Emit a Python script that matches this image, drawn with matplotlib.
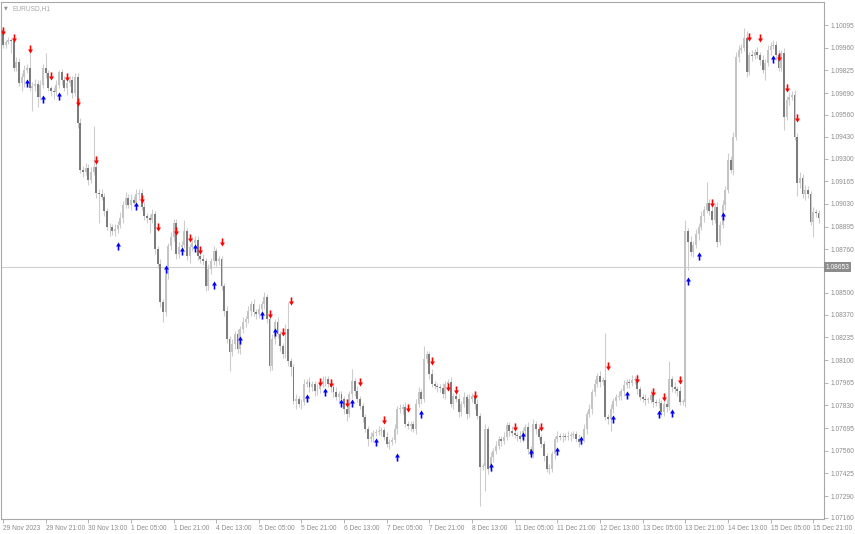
"""EURUSD H1 candles with sell/buy arrow signals, MT4 look."""

import matplotlib.pyplot as plt
import numpy as np
from matplotlib.path import Path

SYMBOL = "EURUSD,H1"
FIRST_OPEN = 1.10066
CLOSES = [
    1.09977, 1.09994, 1.10006, 1.10000, 1.09840, 1.09876, 1.09751, 1.09787, 1.09828, 1.09840,
    1.09721, 1.09733, 1.09745, 1.09668, 1.09739, 1.09840, 1.09810, 1.09721, 1.09703, 1.09697,
    1.09739, 1.09816, 1.09769, 1.09721, 1.09751, 1.09769, 1.09692, 1.09787, 1.09513, 1.09234,
    1.09222, 1.09246, 1.09175, 1.09222, 1.09252, 1.09097, 1.09086, 1.09074, 1.08985, 1.08895,
    1.08890, 1.08866, 1.08878, 1.08907, 1.08949, 1.09026, 1.09068, 1.09026, 1.09056, 1.09038,
    1.09086, 1.09097, 1.09014, 1.08955, 1.08949, 1.08937, 1.08967, 1.08759, 1.08670, 1.08444,
    1.08385, 1.08610, 1.08777, 1.08830, 1.08919, 1.08729, 1.08771, 1.08788, 1.08866, 1.08717,
    1.08771, 1.08800, 1.08818, 1.08717, 1.08699, 1.08688, 1.08539, 1.08640, 1.08688, 1.08747,
    1.08688, 1.08699, 1.08539, 1.08390, 1.08224, 1.08147, 1.08194, 1.08254, 1.08165, 1.08284,
    1.08325, 1.08343, 1.08390, 1.08432, 1.08385, 1.08373, 1.08402, 1.08432, 1.08474, 1.08343,
    1.08064, 1.08224, 1.08325, 1.08254, 1.08183, 1.08135, 1.08284, 1.08093, 1.08058, 1.07856,
    1.07868, 1.07838, 1.07850, 1.07957, 1.07969, 1.07939, 1.07957, 1.07915, 1.07927, 1.07957,
    1.07975, 1.07986, 1.07957, 1.07939, 1.07909, 1.07880, 1.07897, 1.07868, 1.07808, 1.07779,
    1.07897, 1.07975, 1.07915, 1.07868, 1.07826, 1.07761, 1.07689, 1.07630, 1.07642, 1.07666,
    1.07672, 1.07678, 1.07683, 1.07642, 1.07600, 1.07612, 1.07624, 1.07689, 1.07808, 1.07808,
    1.07820, 1.07719, 1.07707, 1.07719, 1.07689, 1.07838, 1.07909, 1.07868, 1.08105, 1.08135,
    1.08016, 1.07957, 1.07945, 1.07939, 1.07933, 1.07897, 1.07957, 1.07969, 1.07838, 1.07885,
    1.07868, 1.07790, 1.07838, 1.07880, 1.07779, 1.07868, 1.07885, 1.07838, 1.07767, 1.07464,
    1.07470, 1.07689, 1.07452, 1.07523, 1.07559, 1.07588, 1.07630, 1.07618, 1.07642, 1.07713,
    1.07678, 1.07666, 1.07654, 1.07648, 1.07630, 1.07678, 1.07701, 1.07571, 1.07535, 1.07719,
    1.07689, 1.07642, 1.07600, 1.07529, 1.07452, 1.07452, 1.07541, 1.07630, 1.07648, 1.07642,
    1.07648, 1.07642, 1.07648, 1.07654, 1.07660, 1.07630, 1.07612, 1.07630, 1.07689, 1.07779,
    1.07808, 1.07909, 1.07957, 1.08004, 1.07969, 1.07980, 1.07761, 1.07749, 1.07808, 1.07856,
    1.07880, 1.07885, 1.07915, 1.07951, 1.07969, 1.07963, 1.07980, 1.07986, 1.07927, 1.07880,
    1.07868, 1.07862, 1.07862, 1.07891, 1.07850, 1.07844, 1.07844, 1.07790, 1.07838, 1.07820,
    1.07986, 1.07939, 1.07927, 1.07915, 1.07850, 1.07850, 1.08866, 1.08806, 1.08741, 1.08788,
    1.08848, 1.08895, 1.08955, 1.08996, 1.09038, 1.08985, 1.08937, 1.09014, 1.08806, 1.08907,
    1.09026, 1.09115, 1.09293, 1.09234, 1.09430, 1.09905, 1.09947, 1.09959, 1.10018, 1.09816,
    1.09917, 1.09911, 1.09935, 1.09917, 1.09888, 1.09828, 1.09870, 1.09947, 1.09971, 1.09977,
    1.09917, 1.09840, 1.09929, 1.09549, 1.09650, 1.09668, 1.09680, 1.09430, 1.09157, 1.09187,
    1.09086, 1.09115, 1.09086, 1.08925, 1.08979, 1.08973, 1.08949,
]
# wick length beyond the body, in pips
WICK_UP = [
    2, 1, 2, 1, 2, 3, 2, 2, 3, 2,
    9, 2, 3, 2, 3, 2, 9, 2, 1, 2,
    3, 1, 2, 2, 3, 2, 2, 2, 2, 3,
    2, 3, 2, 3, 24, 2, 2, 3, 2, 2,
    2, 2, 3, 2, 3, 2, 3, 2, 3, 2,
    3, 2, 2, 3, 2, 2, 3, 2, 2, 3,
    2, 3, 2, 3, 2, 2, 3, 2, 7, 2,
    2, 3, 2, 2, 2, 3, 2, 3, 2, 3,
    2, 2, 2, 2, 3, 2, 3, 2, 3, 2,
    3, 2, 3, 2, 3, 2, 3, 2, 3, 2,
    2, 3, 2, 3, 2, 2, 3, 16, 2, 2,
    3, 2, 2, 3, 2, 3, 2, 2, 3, 2,
    3, 2, 2, 3, 2, 3, 2, 2, 2, 3,
    2, 7, 2, 3, 2, 2, 2, 2, 3, 2,
    2, 3, 2, 2, 3, 2, 2, 3, 2, 3,
    2, 3, 2, 2, 2, 3, 3, 2, 8, 2,
    2, 3, 2, 2, 2, 3, 2, 2, 3, 2,
    2, 3, 2, 3, 2, 3, 2, 2, 3, 2,
    2, 3, 2, 3, 2, 3, 2, 2, 3, 2,
    2, 3, 2, 2, 3, 2, 2, 3, 2, 3,
    2, 3, 2, 2, 2, 3, 2, 2, 3, 2,
    2, 2, 3, 2, 2, 2, 3, 2, 3, 2,
    3, 2, 3, 2, 3, 2, 28, 2, 3, 2,
    2, 3, 2, 3, 2, 2, 3, 2, 3, 2,
    2, 3, 2, 3, 2, 2, 3, 2, 2, 3,
    11, 2, 3, 2, 3, 2, 7, 2, 3, 2,
    3, 2, 3, 2, 12, 2, 3, 2, 3, 2,
    3, 2, 4, 2, 3, 3, 3, 2, 6, 4,
    2, 3, 2, 3, 2, 3, 2, 3, 2, 3,
    2, 3, 2, 3, 2, 3, 2, 3, 2, 3,
    2, 3, 2, 2, 3, 2, 2,
]
WICK_DN = [
    2, 2, 1, 7, 2, 2, 2, 5, 6, 2,
    2, 14, 3, 6, 2, 2, 3, 2, 3, 4,
    2, 2, 3, 2, 4, 2, 3, 2, 3, 2,
    3, 2, 3, 2, 2, 3, 17, 2, 3, 2,
    5, 2, 3, 2, 2, 3, 2, 2, 3, 2,
    2, 3, 2, 2, 3, 8, 2, 3, 2, 3,
    6, 2, 3, 2, 2, 3, 2, 3, 2, 2,
    4, 2, 3, 2, 2, 2, 3, 2, 3, 2,
    3, 2, 2, 3, 2, 11, 2, 3, 2, 3,
    2, 3, 2, 3, 2, 3, 2, 2, 3, 2,
    3, 2, 3, 2, 3, 2, 2, 3, 5, 2,
    5, 2, 3, 2, 2, 3, 2, 3, 2, 2,
    2, 3, 2, 3, 3, 2, 3, 2, 3, 4,
    2, 2, 3, 2, 2, 3, 2, 4, 2, 3,
    2, 2, 3, 2, 2, 3, 2, 2, 3, 2,
    3, 2, 2, 3, 2, 3, 2, 3, 2, 2,
    3, 2, 2, 3, 2, 2, 3, 2, 2, 3,
    2, 3, 2, 2, 3, 2, 2, 3, 2, 23,
    2, 15, 3, 2, 3, 2, 2, 3, 2, 2,
    3, 2, 2, 3, 2, 2, 3, 3, 2, 2,
    3, 2, 2, 3, 2, 3, 2, 3, 2, 2,
    3, 2, 2, 3, 2, 2, 3, 2, 2, 3,
    2, 3, 2, 2, 3, 2, 2, 3, 7, 2,
    3, 2, 2, 3, 2, 3, 2, 2, 3, 2,
    2, 3, 2, 2, 3, 2, 3, 2, 2, 3,
    2, 3, 2, 3, 2, 2, 3, 17, 2, 3,
    2, 3, 2, 3, 2, 2, 3, 2, 3, 2,
    2, 3, 2, 2, 3, 2, 3, 2, 2, 3,
    2, 3, 2, 2, 3, 2, 6, 2, 3, 2,
    3, 2, 2, 8, 2, 3, 2, 2, 8, 3,
    2, 3, 2, 2, 9, 2, 3,
]

SELL_IDX = [0, 4, 10, 18, 24, 28, 35, 52, 58, 65, 70, 74, 82, 100, 105, 108, 119, 123, 129, 134,
            143, 152, 161, 167, 170, 177, 192, 202, 227, 238, 244, 248, 254, 266, 280, 284, 291,
            294, 298]
SELL_PRICE = [1.10060, 1.10018, 1.09953, 1.09793, 1.09787, 1.09638, 1.09293, 1.09062, 1.08895,
              1.08866, 1.08824, 1.08753, 1.08806, 1.08373, 1.08266, 1.08450, 1.07969, 1.07963,
              1.07844, 1.07969, 1.07743, 1.07814, 1.08093, 1.07939, 1.07921, 1.07891, 1.07701,
              1.07701, 1.08064, 1.07986, 1.07909, 1.07880, 1.07980, 1.09038, 1.10024, 1.10018,
              1.09905, 1.09721, 1.09543]
BUY_IDX = [9, 15, 21, 43, 50, 61, 67, 72, 79, 89, 97, 102, 114, 121, 127, 131, 140, 148, 157, 183,
           195, 198, 208, 217, 229, 234, 246, 251, 257, 261, 270, 289]
BUY_PRICE = [1.09751, 1.09656, 1.09674, 1.08782, 1.09020, 1.08640, 1.08747, 1.08765, 1.08545,
             1.08218, 1.08367, 1.08266, 1.07874, 1.07909, 1.07844, 1.07844, 1.07612, 1.07523,
             1.07779, 1.07464, 1.07648, 1.07547, 1.07559, 1.07624, 1.07749, 1.07891, 1.07779,
             1.07785, 1.08569, 1.08717, 1.08955, 1.09894]

TIME_LABELS = ["29 Nov 2023", "29 Nov 21:00", "30 Nov 13:00", "1 Dec 05:00", "1 Dec 21:00",
               "4 Dec 13:00", "5 Dec 05:00", "5 Dec 21:00", "6 Dec 13:00", "7 Dec 05:00",
               "7 Dec 21:00", "8 Dec 13:00", "11 Dec 05:00", "11 Dec 21:00", "12 Dec 13:00",
               "13 Dec 05:00", "13 Dec 21:00", "14 Dec 13:00", "15 Dec 05:00", "15 Dec 21:00"]
LABEL_STEP = 16
PRICE_TICKS = [1.10095, 1.09960, 1.09825, 1.09690, 1.09560, 1.09430, 1.09300, 1.09165, 1.09030,
               1.08895, 1.08760, 1.08630, 1.08500, 1.08370, 1.08235, 1.08100, 1.07965, 1.07830,
               1.07695, 1.07560, 1.07425, 1.07290, 1.07160]
LAST_PRICE = 1.08653

BULL = "#C4C4C4"
BEAR = "#7C7C7C"
WICK = "#CDCDCD"
FRAME = "#A8A8A8"
TEXT = "#8C8C8C"
FS = 4.8


def arrow_path(down=True):
    s = 1 if down else -1
    verts = [(-0.2, s * 1.0), (0.2, s * 1.0), (0.2, 0.0), (0.6, 0.0), (0.0, -s * 1.0),
             (-0.6, 0.0), (-0.2, 0.0), (-0.2, s * 1.0)]
    codes = [Path.MOVETO] + [Path.LINETO] * 6 + [Path.CLOSEPOLY]
    return Path(verts, codes)


def main():
    plt.rcParams["font.family"] = ["Liberation Sans", "DejaVu Sans"]
    pip = 0.0001
    closes = np.array(CLOSES)
    opens = np.concatenate([[FIRST_OPEN], closes[:-1]])
    highs = np.maximum(opens, closes) + np.array(WICK_UP) * pip
    lows = np.minimum(opens, closes) - np.array(WICK_DN) * pip
    x = np.arange(len(closes))
    up = closes >= opens
    body = np.maximum(np.abs(closes - opens), 0.00004)
    bottoms = np.minimum(opens, closes)

    fig = plt.figure(figsize=(8.55, 5.34), dpi=100)
    ax = fig.add_axes([1 / 855, 15 / 534, 823 / 855, 517 / 534])

    ax.axhline(LAST_PRICE, color="#CFCFCF", linewidth=0.8, zorder=1)
    ax.vlines(x, lows, highs, color=WICK, linewidth=0.8, zorder=2)
    ax.bar(x[up], body[up], bottom=bottoms[up], width=0.72, color=BULL, linewidth=0, zorder=3)
    ax.bar(x[~up], body[~up], bottom=bottoms[~up], width=0.72, color=BEAR, linewidth=0, zorder=3)

    ax.scatter(SELL_IDX, SELL_PRICE, marker=arrow_path(True), s=34, color="#FF0000",
               linewidths=0, zorder=5)
    ax.scatter(BUY_IDX, BUY_PRICE, marker=arrow_path(False), s=34, color="#0000FF",
               linewidths=0, zorder=5)

    ax.set_xlim(-0.75, 308.06)
    ax.set_ylim(1.07154, 1.10232)

    ax.yaxis.tick_right()
    ax.set_yticks(PRICE_TICKS)
    # the 1.08630 label sits under the last-price tag, as in the terminal
    ax.set_yticklabels([f"{p:.5f}" if abs(p - LAST_PRICE) > 0.0005 else "" for p in PRICE_TICKS])
    ax.tick_params(axis="y", direction="out", length=3, width=0.6, color=FRAME,
                   labelsize=FS, labelcolor=TEXT, pad=1.5)

    ax.set_xticks(np.arange(len(TIME_LABELS)) * LABEL_STEP)
    ax.set_xticklabels(TIME_LABELS)
    ax.tick_params(axis="x", direction="out", length=3, width=0.6, color=FRAME,
                   labelsize=FS, labelcolor=TEXT, pad=1.5)
    for lbl in ax.get_xticklabels():
        lbl.set_horizontalalignment("left")

    for spine in ax.spines.values():
        spine.set_color(FRAME)
        spine.set_linewidth(0.8)

    ax.text(1.002, LAST_PRICE, f"{LAST_PRICE:.5f}", transform=ax.get_yaxis_transform(),
            ha="left", va="center", fontsize=FS, color="white", zorder=10, clip_on=False,
            bbox=dict(boxstyle="square,pad=0.25", fc="#8C8C8C", ec="none"))
    ax.text(0.004, 0.993, "\u25BC", transform=ax.transAxes, ha="left", va="top",
            fontsize=3.5, color=TEXT, family="DejaVu Sans")
    ax.text(0.014, 0.995, SYMBOL, transform=ax.transAxes, ha="left", va="top",
            fontsize=FS, color="#A8A8A8")

    fig.savefig("out.png", dpi=100)


if __name__ == "__main__":
    main()
